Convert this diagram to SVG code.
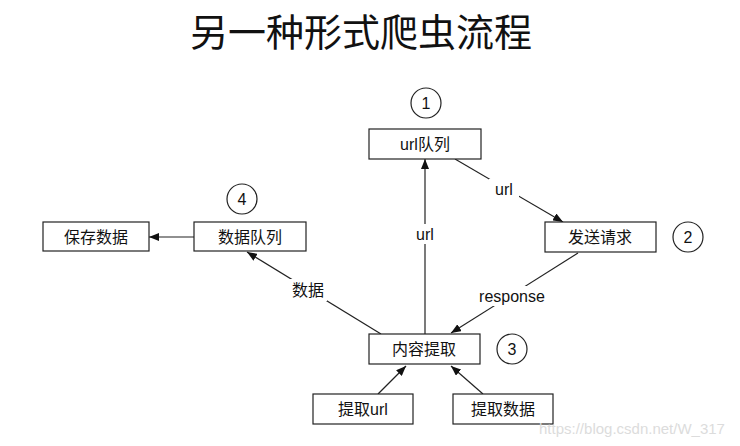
<svg xmlns="http://www.w3.org/2000/svg" width="740" height="446" viewBox="0 0 740 446">
<defs>
<style>
.box{fill:#fff;stroke:#222;stroke-width:1.2}
.t{font-family:"Liberation Sans","Noto Sans CJK SC",sans-serif;font-size:16px;fill:#111;text-anchor:middle;dominant-baseline:central}
.num{font-family:"Liberation Sans",sans-serif;font-size:16px;fill:#111;text-anchor:middle;dominant-baseline:central}
.c{fill:#fff;stroke:#222;stroke-width:1.2}
.ln{stroke:#222;stroke-width:1.2;fill:none;marker-end:url(#ah)}
.lbl{font-family:"Liberation Sans","Noto Sans CJK SC",sans-serif;font-size:16px;fill:#111;text-anchor:middle;dominant-baseline:central}
.bg{fill:#fff}
</style>
<marker id="ah" viewBox="0 0 10 8" refX="10" refY="4" markerWidth="10" markerHeight="8" markerUnits="userSpaceOnUse" orient="auto">
<path d="M0,0 L10,4 L0,8 z" fill="#111"/>
</marker>
</defs>
<rect width="740" height="446" fill="#fff"/>
<text x="361" y="29" font-family="'Noto Sans CJK SC',sans-serif" font-size="38" fill="#111" text-anchor="middle" dominant-baseline="central">另一种形式爬虫流程</text>

<g id="connectors">
<line class="ln" x1="455" y1="159" x2="563" y2="222"/>
<line class="ln" x1="425" y1="334" x2="425" y2="159"/>
<line class="ln" x1="578" y1="253" x2="451" y2="333"/>
<line class="ln" x1="381" y1="334" x2="247" y2="252"/>
<line class="ln" x1="194" y1="237" x2="149" y2="237"/>
<line class="ln" x1="378" y1="394" x2="406" y2="366"/>
<line class="ln" x1="483" y1="394" x2="451" y2="366"/>
<rect class="bg" x="489" y="179" width="30" height="20"/>
<text class="lbl" x="504" y="189">url</text>
<rect class="bg" x="411" y="224" width="28" height="20"/>
<text class="lbl" x="425" y="234">url</text>
<rect class="bg" x="474" y="286" width="78" height="20"/>
<text class="lbl" x="512" y="296">response</text>
<rect class="bg" x="289" y="279" width="38" height="22"/>
<text class="lbl" x="308" y="290">数据</text>
</g>

<g id="n1"><rect class="box" x="369" y="129" width="112" height="30"/><text class="t" x="425" y="144">url队列</text></g>
<g id="c1"><circle class="c" cx="426" cy="103" r="15"/><text class="num" x="426" y="103">1</text></g>
<g id="n2"><rect class="box" x="545" y="222" width="111" height="30"/><text class="t" x="600" y="237">发送请求</text></g>
<g id="c2"><circle class="c" cx="688" cy="237" r="15"/><text class="num" x="688" y="237">2</text></g>
<g id="n3"><rect class="box" x="369" y="334" width="111" height="30"/><text class="t" x="424" y="349">内容提取</text></g>
<g id="c3"><circle class="c" cx="512" cy="349" r="15"/><text class="num" x="512" y="349">3</text></g>
<g id="n4"><rect class="box" x="194" y="222" width="112" height="29"/><text class="t" x="250" y="237">数据队列</text></g>
<g id="c4"><circle class="c" cx="242" cy="199" r="15"/><text class="num" x="242" y="199">4</text></g>
<g id="n5"><rect class="box" x="43" y="222" width="106" height="29"/><text class="t" x="96" y="237">保存数据</text></g>
<g id="n6"><rect class="box" x="313" y="394" width="100" height="30"/><text class="t" x="363" y="409">提取url</text></g>
<g id="n7"><rect class="box" x="453" y="394" width="100" height="30"/><text class="t" x="503" y="409">提取数据</text></g>

<text x="632" y="428" font-family="'Liberation Sans',sans-serif" font-size="15" fill="#dcdcdc" text-anchor="middle" dominant-baseline="central">https://blog.csdn.net/W_317</text>
</svg>
